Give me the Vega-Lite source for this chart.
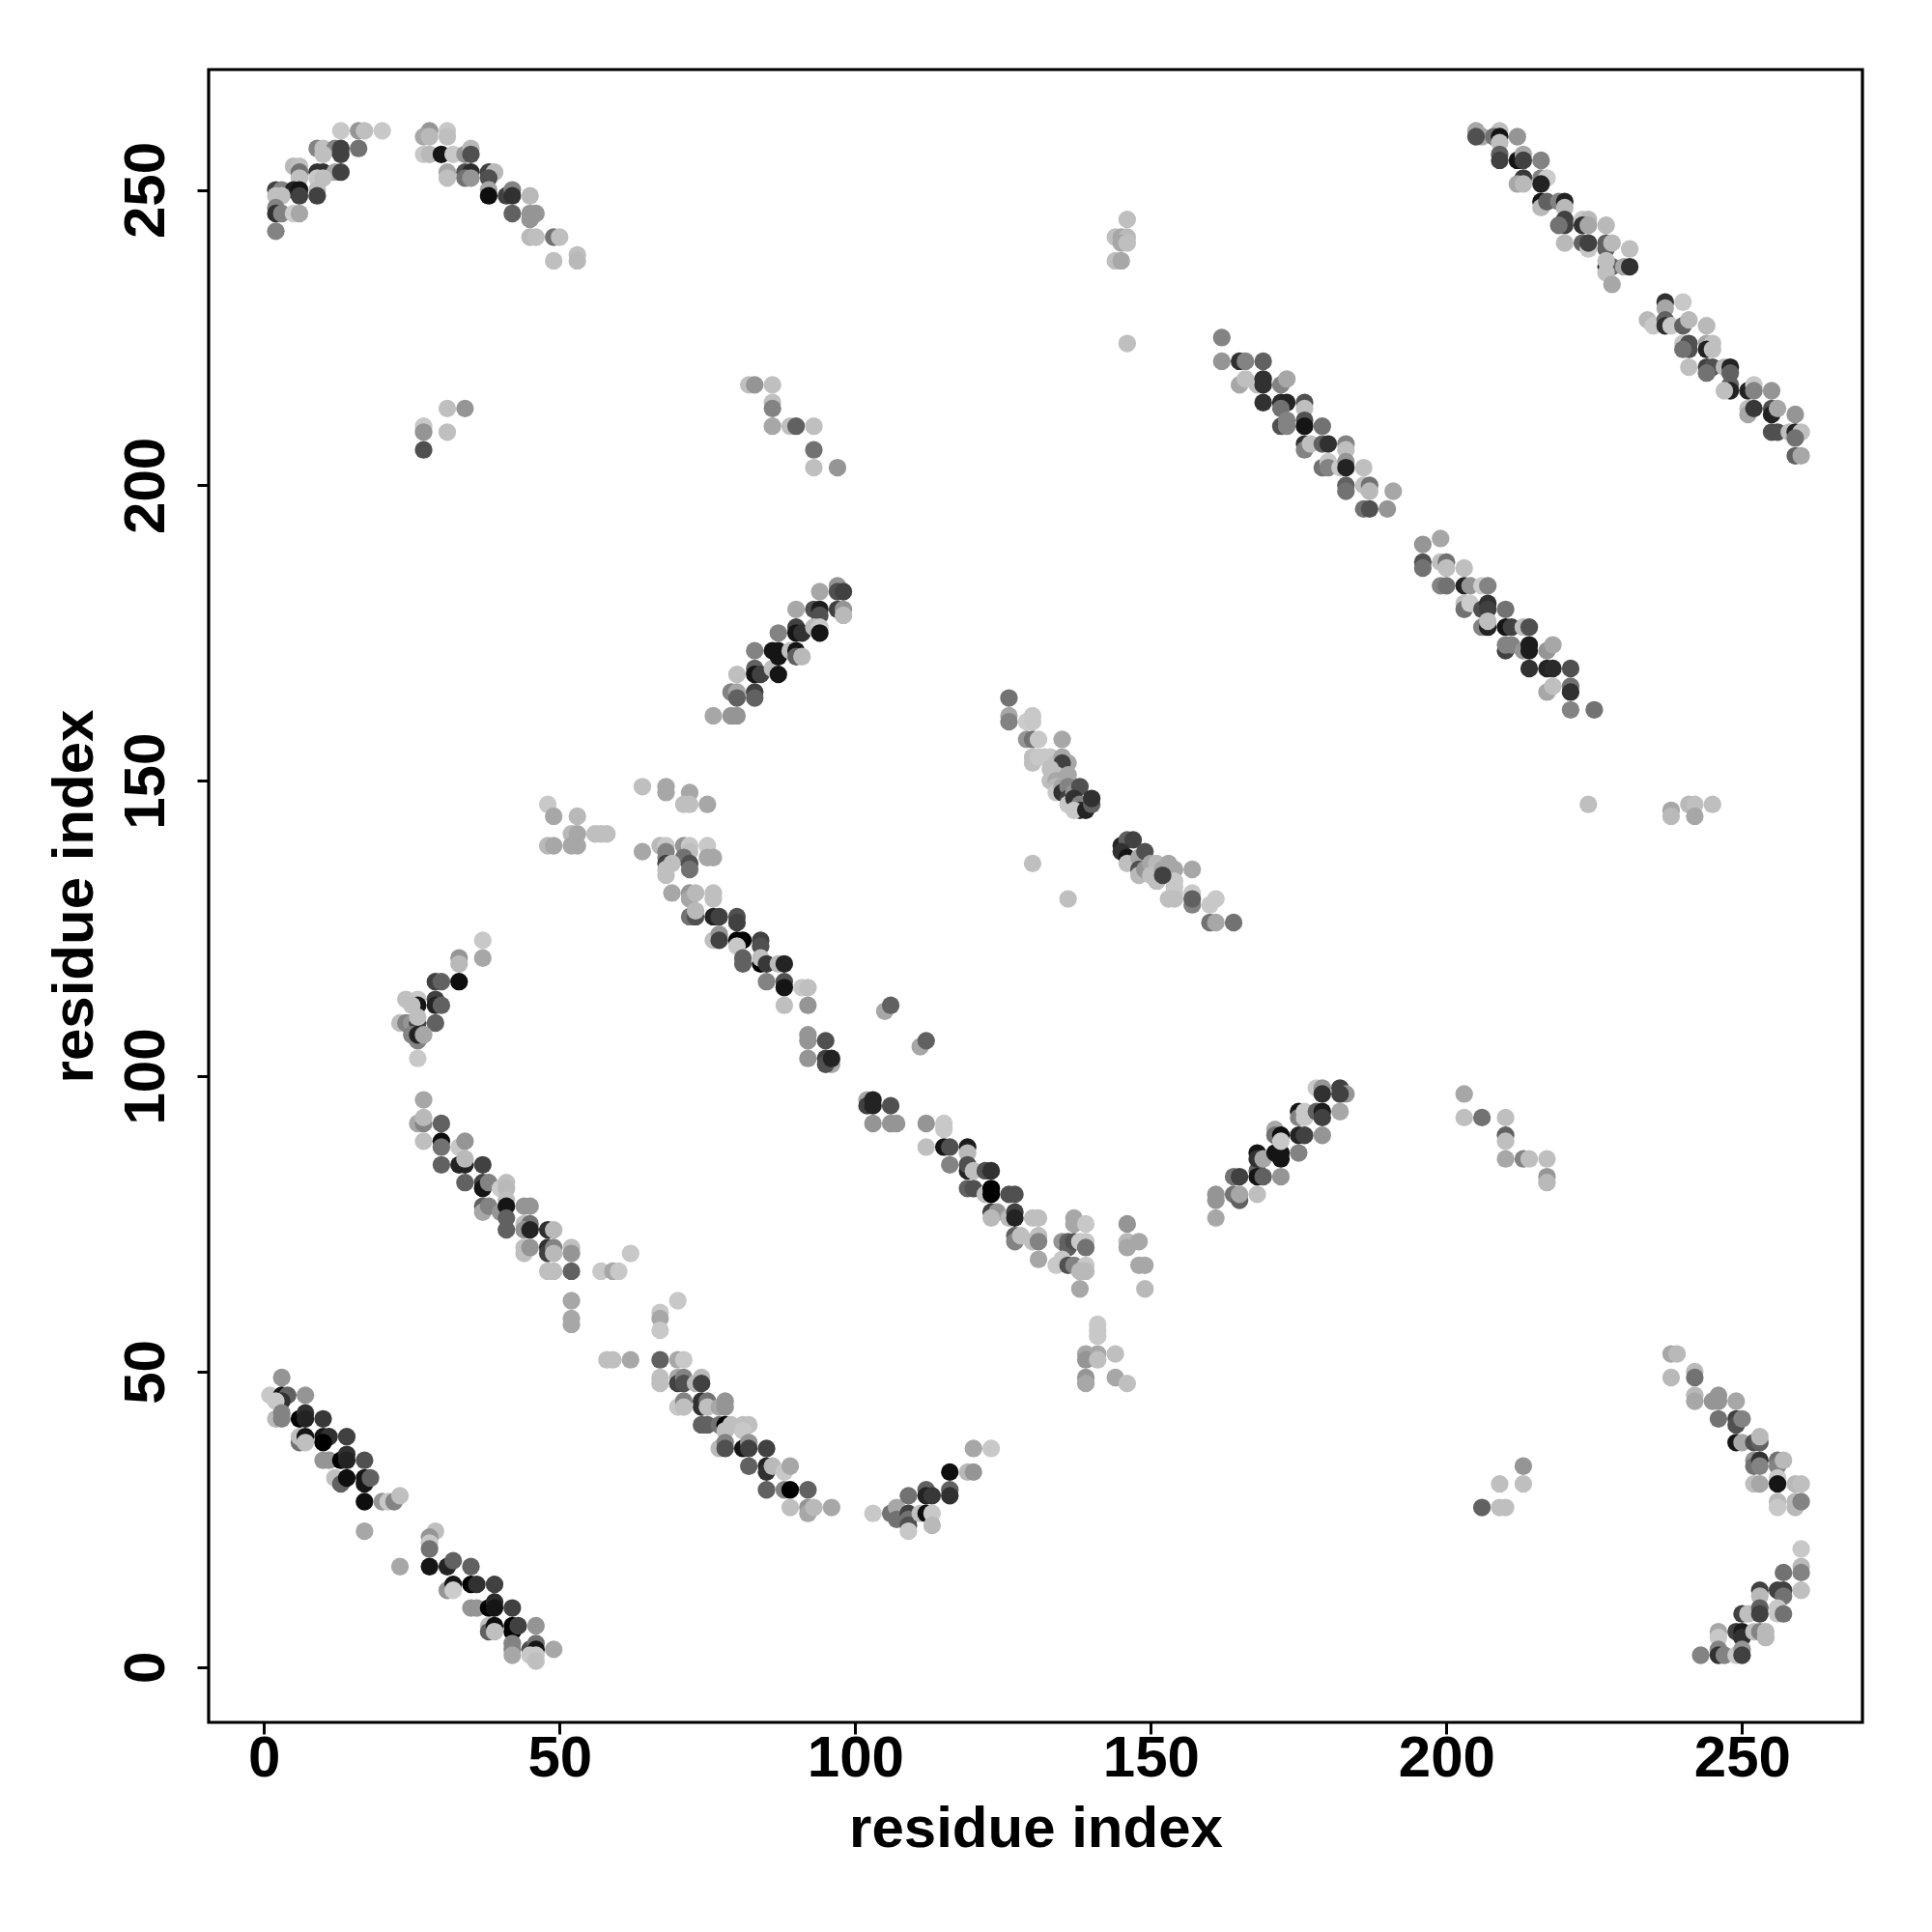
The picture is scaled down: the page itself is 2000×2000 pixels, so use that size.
{"$schema":"https://vega.github.io/schema/vega-lite/v6.json","width":1712,"height":1711,"autosize":"none","padding":{"left":216,"top":72,"right":72,"bottom":217},"background":"white","view":{"stroke":"black","strokeWidth":3.2,"fill":"white"},"config":{"axis":{"grid":false,"domain":false,"tickColor":"black","tickWidth":3,"tickSize":12,"labelFont":"Liberation Sans","labelFontWeight":"bold","labelFontSize":60,"labelColor":"black","titleFont":"Liberation Sans","titleFontWeight":"bold","titleFontSize":60,"titleColor":"black"}},"data":{"values":[
{"i":13,"j":260,"s":200},{"i":16,"j":260,"s":153},{"i":17,"j":260,"s":192},{"i":20,"j":260,"s":200},{"i":28,"j":260,"s":153},{"i":31,"j":260,"s":200},{"i":27,"j":259,"s":170},{"i":31,"j":259,"s":192},{"i":28,"j":259,"s":187},
{"i":9,"j":257,"s":136},{"i":10,"j":257,"s":192},{"i":12,"j":257,"s":136},{"i":13,"j":257,"s":68},{"i":16,"j":257,"s":119},{"i":10,"j":256,"s":192},{"i":13,"j":256,"s":68},{"i":27,"j":256,"s":200},{"i":28,"j":256,"s":187},{"i":30,"j":256,"s":17},{"i":32,"j":256,"s":200},{"i":34,"j":256,"s":153},{"i":35,"j":257,"s":187},{"i":35,"j":256,"s":85},
{"i":5,"j":254,"s":187},{"i":6,"j":254,"s":192},{"i":6,"j":253,"s":119},{"i":9,"j":253,"s":51},{"i":10,"j":253,"s":51},{"i":12,"j":253,"s":170},{"i":13,"j":253,"s":68},{"i":31,"j":253,"s":170},{"i":34,"j":253,"s":85},{"i":35,"j":253,"s":42},{"i":38,"j":253,"s":68},{"i":39,"j":253,"s":187},
{"i":6,"j":252,"s":192},{"i":9,"j":252,"s":200},{"i":10,"j":252,"s":192},{"i":31,"j":252,"s":192},{"i":34,"j":252,"s":119},{"i":35,"j":252,"s":153},{"i":38,"j":252,"s":85},
{"i":2,"j":250,"s":68},{"i":3,"j":250,"s":136},{"i":5,"j":250,"s":34},{"i":6,"j":250,"s":17},{"i":9,"j":250,"s":192},{"i":2,"j":249,"s":192},{"i":3,"j":249,"s":192},{"i":6,"j":249,"s":68},{"i":9,"j":249,"s":68},{"i":38,"j":250,"s":170},{"i":38,"j":249,"s":10},{"i":41,"j":249,"s":68},{"i":42,"j":250,"s":136},{"i":42,"j":249,"s":51},{"i":45,"j":249,"s":187},
{"i":2,"j":247,"s":136},{"i":2,"j":246,"s":51},{"i":3,"j":246,"s":136},{"i":5,"j":246,"s":204},{"i":6,"j":246,"s":170},{"i":42,"j":246,"s":102},{"i":45,"j":246,"s":153},{"i":46,"j":246,"s":153},{"i":45,"j":245,"s":153},{"i":2,"j":243,"s":136},{"i":45,"j":242,"s":187},{"i":46,"j":242,"s":192},{"i":49,"j":242,"s":119},{"i":50,"j":242,"s":192},{"i":49,"j":238,"s":192},{"i":53,"j":239,"s":192},{"i":53,"j":238,"s":187},
{"i":31,"j":213,"s":192},{"i":34,"j":213,"s":153},{"i":27,"j":210,"s":200},{"i":27,"j":209,"s":153},{"i":31,"j":209,"s":192},{"i":27,"j":206,"s":85},
{"i":205,"j":260,"s":170},{"i":206,"j":259,"s":170},{"i":205,"j":259,"s":85},{"i":209,"j":260,"s":192},{"i":208,"j":259,"s":119},{"i":209,"j":259,"s":17},{"i":209,"j":258,"s":192},{"i":212,"j":259,"s":153},{"i":209,"j":256,"s":102},{"i":209,"j":255,"s":68},{"i":212,"j":255,"s":17},{"i":213,"j":256,"s":170},{"i":213,"j":255,"s":68},{"i":216,"j":255,"s":136},{"i":213,"j":252,"s":58},{"i":212,"j":251,"s":170},{"i":213,"j":251,"s":187},{"i":216,"j":252,"s":136},{"i":217,"j":252,"s":204},{"i":216,"j":251,"s":34},{"i":216,"j":248,"s":17},{"i":216,"j":247,"s":187},{"i":217,"j":248,"s":102},{"i":219,"j":248,"s":136},{"i":220,"j":248,"s":34},{"i":220,"j":247,"s":187},{"i":220,"j":245,"s":68},{"i":220,"j":244,"s":68},{"i":219,"j":244,"s":119},{"i":223,"j":245,"s":200},{"i":224,"j":245,"s":187},{"i":223,"j":244,"s":51},{"i":224,"j":244,"s":170},{"i":227,"j":244,"s":187},{"i":220,"j":241,"s":187},{"i":223,"j":241,"s":102},{"i":224,"j":240,"s":200},{"i":224,"j":241,"s":68},{"i":227,"j":241,"s":102},{"i":227,"j":240,"s":102},{"i":228,"j":241,"s":187},{"i":231,"j":240,"s":192},{"i":227,"j":237,"s":34},{"i":228,"j":237,"s":102},{"i":227,"j":238,"s":192},{"i":230,"j":237,"s":170},{"i":231,"j":237,"s":51},{"i":227,"j":236,"s":192},{"i":228,"j":234,"s":170},
{"i":237,"j":231,"s":51},{"i":237,"j":230,"s":170},{"i":240,"j":231,"s":200},{"i":234,"j":228,"s":187},{"i":235,"j":227,"s":200},{"i":237,"j":228,"s":102},{"i":237,"j":227,"s":51},{"i":238,"j":227,"s":200},{"i":240,"j":227,"s":102},{"i":241,"j":228,"s":187},{"i":244,"j":227,"s":187},{"i":240,"j":224,"s":200},{"i":241,"j":224,"s":85},{"i":241,"j":223,"s":85},{"i":240,"j":223,"s":119},{"i":244,"j":224,"s":170},{"i":245,"j":224,"s":192},{"i":244,"j":223,"s":34},{"i":245,"j":223,"s":192},{"i":241,"j":220,"s":192},{"i":244,"j":220,"s":68},{"i":245,"j":220,"s":85},{"i":244,"j":219,"s":119},{"i":247,"j":220,"s":187},{"i":248,"j":220,"s":34},{"i":248,"j":219,"s":102},{"i":248,"j":217,"s":102},{"i":248,"j":216,"s":34},{"i":247,"j":216,"s":192},{"i":251,"j":216,"s":34},{"i":252,"j":217,"s":200},{"i":252,"j":216,"s":136},{"i":255,"j":216,"s":153},{"i":251,"j":213,"s":192},{"i":251,"j":212,"s":170},{"i":252,"j":213,"s":58},{"i":255,"j":213,"s":85},{"i":255,"j":212,"s":34},{"i":256,"j":213,"s":170},{"i":255,"j":209,"s":85},{"i":256,"j":209,"s":85},{"i":258,"j":209,"s":192},{"i":259,"j":212,"s":153},{"i":259,"j":209,"s":34},{"i":260,"j":209,"s":192},{"i":259,"j":208,"s":119},{"i":259,"j":205,"s":102},{"i":260,"j":205,"s":170},
{"i":162,"j":225,"s":136},{"i":162,"j":221,"s":153},{"i":165,"j":221,"s":51},{"i":166,"j":221,"s":136},{"i":169,"j":221,"s":102},{"i":165,"j":217,"s":170},{"i":166,"j":218,"s":192},{"i":168,"j":217,"s":192},{"i":169,"j":218,"s":51},{"i":169,"j":217,"s":51},{"i":172,"j":217,"s":136},{"i":173,"j":218,"s":170},{"i":169,"j":214,"s":51},{"i":172,"j":214,"s":42},{"i":173,"j":214,"s":34},{"i":172,"j":213,"s":119},{"i":176,"j":214,"s":85},{"i":176,"j":213,"s":192},{"i":172,"j":210,"s":85},{"i":173,"j":211,"s":136},{"i":173,"j":210,"s":136},{"i":176,"j":211,"s":85},{"i":176,"j":210,"s":17},{"i":179,"j":210,"s":119},{"i":176,"j":207,"s":51},{"i":176,"j":206,"s":136},{"i":177,"j":207,"s":192},{"i":179,"j":207,"s":102},{"i":180,"j":207,"s":51},{"i":183,"j":207,"s":136},{"i":183,"j":206,"s":192},{"i":179,"j":203,"s":119},{"i":180,"j":204,"s":200},{"i":180,"j":203,"s":136},{"i":182,"j":203,"s":200},{"i":183,"j":204,"s":153},{"i":183,"j":203,"s":34},{"i":186,"j":203,"s":192},{"i":183,"j":200,"s":102},{"i":183,"j":199,"s":119},{"i":186,"j":200,"s":192},{"i":187,"j":200,"s":119},{"i":187,"j":199,"s":187},{"i":191,"j":199,"s":170},{"i":186,"j":196,"s":119},{"i":187,"j":196,"s":85},{"i":190,"j":196,"s":153},
{"i":196,"j":190,"s":153},{"i":199,"j":191,"s":170},{"i":196,"j":187,"s":85},{"i":196,"j":186,"s":119},{"i":199,"j":187,"s":192},{"i":200,"j":187,"s":119},{"i":200,"j":186,"s":192},{"i":203,"j":186,"s":192},{"i":199,"j":183,"s":136},{"i":200,"j":183,"s":119},{"i":203,"j":183,"s":34},{"i":204,"j":183,"s":153},{"i":206,"j":183,"s":204},{"i":207,"j":183,"s":136},{"i":203,"j":180,"s":192},{"i":203,"j":179,"s":119},{"i":204,"j":180,"s":204},{"i":206,"j":179,"s":85},{"i":207,"j":180,"s":51},{"i":207,"j":179,"s":68},{"i":210,"j":179,"s":119},{"i":206,"j":176,"s":136},{"i":207,"j":176,"s":34},{"i":207,"j":177,"s":192},{"i":210,"j":176,"s":17},{"i":211,"j":176,"s":68},{"i":213,"j":176,"s":192},{"i":214,"j":176,"s":85},{"i":210,"j":172,"s":68},{"i":210,"j":173,"s":136},{"i":211,"j":173,"s":136},{"i":213,"j":172,"s":153},{"i":214,"j":173,"s":26},{"i":214,"j":172,"s":26},{"i":217,"j":172,"s":153},{"i":218,"j":173,"s":170},{"i":214,"j":169,"s":51},{"i":217,"j":169,"s":34},{"i":218,"j":169,"s":42},{"i":221,"j":169,"s":85},{"i":217,"j":165,"s":170},{"i":218,"j":166,"s":192},{"i":221,"j":166,"s":119},{"i":221,"j":165,"s":51},{"i":221,"j":162,"s":136},{"i":225,"j":162,"s":119},
{"i":82,"j":217,"s":192},{"i":83,"j":217,"s":153},{"i":86,"j":217,"s":192},{"i":86,"j":214,"s":192},{"i":86,"j":213,"s":136},{"i":86,"j":210,"s":170},{"i":89,"j":210,"s":192},{"i":90,"j":210,"s":102},{"i":93,"j":210,"s":192},{"i":93,"j":206,"s":119},{"i":93,"j":203,"s":192},{"i":97,"j":203,"s":153},
{"i":76,"j":161,"s":170},{"i":79,"j":161,"s":153},{"i":80,"j":161,"s":153},{"i":79,"j":165,"s":136},{"i":80,"j":165,"s":170},{"i":80,"j":164,"s":102},{"i":83,"j":165,"s":68},{"i":83,"j":164,"s":102},{"i":80,"j":168,"s":192},{"i":83,"j":169,"s":102},{"i":83,"j":168,"s":17},{"i":84,"j":168,"s":68},{"i":86,"j":169,"s":192},{"i":87,"j":168,"s":17},{"i":83,"j":172,"s":136},{"i":86,"j":172,"s":17},{"i":87,"j":172,"s":17},{"i":87,"j":171,"s":17},{"i":89,"j":172,"s":192},{"i":90,"j":172,"s":17},{"i":90,"j":171,"s":102},{"i":91,"j":171,"s":187},{"i":87,"j":175,"s":136},{"i":90,"j":176,"s":68},{"i":90,"j":175,"s":17},{"i":91,"j":175,"s":51},{"i":90,"j":179,"s":170},{"i":93,"j":179,"s":85},{"i":94,"j":179,"s":26},{"i":94,"j":178,"s":85},{"i":93,"j":176,"s":187},{"i":94,"j":176,"s":200},{"i":94,"j":175,"s":17},{"i":94,"j":182,"s":170},{"i":97,"j":179,"s":68},{"i":98,"j":179,"s":153},{"i":98,"j":178,"s":187},{"i":97,"j":183,"s":153},{"i":97,"j":182,"s":85},{"i":98,"j":182,"s":68},
{"i":126,"j":164,"s":119},{"i":126,"j":161,"s":170},{"i":126,"j":160,"s":136},{"i":129,"j":160,"s":204},{"i":130,"j":161,"s":200},{"i":130,"j":160,"s":200},{"i":129,"j":157,"s":153},{"i":130,"j":157,"s":119},{"i":131,"j":157,"s":200},{"i":135,"j":157,"s":170},{"i":130,"j":154,"s":192},{"i":130,"j":153,"s":192},{"i":131,"j":154,"s":200},{"i":132,"j":154,"s":200},{"i":133,"j":154,"s":200},{"i":134,"j":153,"s":192},{"i":135,"j":154,"s":170},{"i":134,"j":152,"s":192},{"i":136,"j":153,"s":170},{"i":135,"j":153,"s":68},{"i":133,"j":152,"s":192},{"i":134,"j":151,"s":192},{"i":133,"j":150,"s":192},{"i":134,"j":150,"s":170},{"i":134,"j":149,"s":187},{"i":134,"j":148,"s":200},{"i":135,"j":149,"s":170},{"i":135,"j":148,"s":51},{"i":136,"j":150,"s":170},{"i":136,"j":151,"s":170},{"i":136,"j":149,"s":136},{"i":136,"j":147,"s":68},{"i":136,"j":146,"s":200},{"i":137,"j":148,"s":153},{"i":138,"j":149,"s":85},{"i":137,"j":147,"s":51},{"i":138,"j":146,"s":136},{"i":138,"j":145,"s":51},{"i":137,"j":145,"s":200},{"i":139,"j":145,"s":34},{"i":140,"j":146,"s":102},{"i":140,"j":147,"s":51},
{"i":130,"j":136,"s":192},{"i":136,"j":130,"s":192},
{"i":145,"j":139,"s":34},{"i":146,"j":140,"s":102},{"i":147,"j":140,"s":68},{"i":145,"j":138,"s":51},{"i":146,"j":137,"s":17},{"i":146,"j":136,"s":192},{"i":148,"j":137,"s":170},{"i":149,"j":138,"s":85},{"i":148,"j":135,"s":85},{"i":148,"j":134,"s":187},{"i":149,"j":135,"s":153},{"i":150,"j":136,"s":170},{"i":151,"j":136,"s":187},{"i":151,"j":134,"s":187},{"i":150,"j":134,"s":192},{"i":151,"j":133,"s":192},{"i":152,"j":135,"s":170},{"i":153,"j":135,"s":85},{"i":153,"j":136,"s":170},{"i":154,"j":135,"s":170},{"i":154,"j":133,"s":200},{"i":154,"j":132,"s":200},{"i":154,"j":131,"s":200},{"i":153,"j":130,"s":192},{"i":154,"j":130,"s":192},{"i":152,"j":134,"s":68},{"i":157,"j":135,"s":170},{"i":157,"j":131,"s":200},{"i":157,"j":129,"s":136},{"i":157,"j":130,"s":102},{"i":160,"j":129,"s":200},{"i":161,"j":130,"s":200},{"i":160,"j":126,"s":119},{"i":161,"j":126,"s":170},{"i":164,"j":126,"s":119},
{"i":48,"j":146,"s":200},{"i":49,"j":144,"s":170},{"i":53,"j":144,"s":187},{"i":52,"j":141,"s":187},{"i":53,"j":141,"s":170},{"i":56,"j":141,"s":192},{"i":57,"j":141,"s":192},{"i":58,"j":141,"s":192},{"i":48,"j":139,"s":187},{"i":49,"j":139,"s":170},{"i":52,"j":139,"s":170},{"i":53,"j":139,"s":170},
{"i":64,"j":149,"s":192},{"i":68,"j":149,"s":170},{"i":68,"j":148,"s":170},{"i":72,"j":148,"s":170},{"i":71,"j":146,"s":192},{"i":72,"j":146,"s":192},{"i":75,"j":146,"s":170},
{"i":64,"j":138,"s":170},{"i":67,"j":139,"s":187},{"i":68,"j":139,"s":200},{"i":68,"j":138,"s":136},{"i":68,"j":137,"s":136},{"i":71,"j":139,"s":153},{"i":72,"j":139,"s":200},{"i":72,"j":138,"s":192},{"i":75,"j":139,"s":200},{"i":75,"j":137,"s":170},{"i":76,"j":137,"s":170},{"i":71,"j":137,"s":119},{"i":72,"j":136,"s":85},{"i":72,"j":135,"s":119},{"i":68,"j":136,"s":68},{"i":69,"j":136,"s":192},{"i":68,"j":135,"s":192},{"i":68,"j":134,"s":192},
{"i":69,"j":131,"s":170},{"i":72,"j":131,"s":153},{"i":72,"j":130,"s":170},{"i":73,"j":131,"s":187},{"i":76,"j":131,"s":192},{"i":76,"j":130,"s":192},
{"i":72,"j":127,"s":119},{"i":73,"j":127,"s":85},{"i":73,"j":128,"s":187},{"i":76,"j":127,"s":34},{"i":77,"j":127,"s":68},{"i":80,"j":127,"s":85},{"i":80,"j":126,"s":68},
{"i":76,"j":123,"s":192},{"i":77,"j":124,"s":153},{"i":77,"j":123,"s":68},{"i":80,"j":123,"s":0},{"i":81,"j":123,"s":0},{"i":80,"j":122,"s":200},
{"i":84,"j":123,"s":68},{"i":84,"j":122,"s":85},{"i":81,"j":120,"s":102},{"i":81,"j":119,"s":102},{"i":84,"j":119,"s":0},{"i":84,"j":120,"s":192},{"i":85,"j":119,"s":58},{"i":87,"j":119,"s":187},{"i":88,"j":119,"s":34},
{"i":85,"j":116,"s":136},{"i":88,"j":116,"s":85},{"i":88,"j":115,"s":17},{"i":91,"j":115,"s":200},{"i":92,"j":115,"s":192},{"i":88,"j":112,"s":192},{"i":92,"j":112,"s":153},
{"i":92,"j":107,"s":153},{"i":92,"j":106,"s":153},{"i":92,"j":103,"s":153},{"i":95,"j":106,"s":85},{"i":95,"j":103,"s":68},{"i":96,"j":102,"s":170},{"i":95,"j":102,"s":85},{"i":96,"j":103,"s":34},
{"i":105,"j":111,"s":170},{"i":106,"j":112,"s":102},{"i":102,"j":96,"s":170},{"i":102,"j":95,"s":68},{"i":103,"j":96,"s":34},{"i":103,"j":95,"s":34},{"i":106,"j":95,"s":85},{"i":103,"j":92,"s":153},{"i":106,"j":92,"s":153},{"i":107,"j":92,"s":153},
{"i":111,"j":105,"s":170},{"i":112,"j":106,"s":102},{"i":112,"j":92,"s":153},{"i":115,"j":92,"s":200},{"i":115,"j":91,"s":200},{"i":112,"j":88,"s":192},{"i":115,"j":88,"s":17},{"i":116,"j":88,"s":85},{"i":119,"j":88,"s":26},{"i":119,"j":87,"s":187},{"i":116,"j":85,"s":136},{"i":119,"j":84,"s":34},{"i":119,"j":85,"s":85},{"i":120,"j":84,"s":192},{"i":122,"j":84,"s":85},{"i":123,"j":84,"s":51},
{"i":119,"j":81,"s":102},{"i":120,"j":81,"s":85},{"i":122,"j":80,"s":192},{"i":123,"j":81,"s":0},{"i":123,"j":80,"s":0},{"i":126,"j":80,"s":85},{"i":127,"j":80,"s":85},
{"i":123,"j":77,"s":68},{"i":124,"j":77,"s":153},{"i":123,"j":76,"s":187},{"i":126,"j":76,"s":187},{"i":127,"j":77,"s":68},{"i":127,"j":76,"s":34},{"i":130,"j":76,"s":192},{"i":131,"j":76,"s":192},
{"i":127,"j":73,"s":102},{"i":127,"j":72,"s":136},{"i":128,"j":73,"s":192},{"i":130,"j":72,"s":192},{"i":131,"j":73,"s":192},{"i":131,"j":72,"s":136},{"i":131,"j":69,"s":170},
{"i":134,"j":68,"s":200},{"i":135,"j":72,"s":153},{"i":136,"j":72,"s":102},{"i":136,"j":71,"s":102},{"i":135,"j":69,"s":200},{"i":136,"j":68,"s":85},{"i":137,"j":76,"s":170},{"i":137,"j":75,"s":170},{"i":139,"j":75,"s":200},{"i":137,"j":72,"s":85},{"i":138,"j":72,"s":200},{"i":139,"j":72,"s":200},{"i":139,"j":71,"s":119},{"i":137,"j":68,"s":136},{"i":139,"j":68,"s":200},{"i":139,"j":67,"s":187},{"i":138,"j":67,"s":187},{"i":138,"j":64,"s":170},
{"i":146,"j":75,"s":153},{"i":146,"j":72,"s":187},{"i":146,"j":71,"s":170},{"i":148,"j":72,"s":170},{"i":148,"j":68,"s":170},{"i":149,"j":68,"s":170},{"i":149,"j":64,"s":187},
{"i":141,"j":58,"s":200},{"i":141,"j":57,"s":200},{"i":141,"j":56,"s":200},{"i":139,"j":53,"s":170},{"i":141,"j":53,"s":170},{"i":144,"j":53,"s":192},{"i":139,"j":52,"s":153},{"i":141,"j":52,"s":192},{"i":139,"j":49,"s":153},{"i":139,"j":48,"s":170},{"i":144,"j":49,"s":170},{"i":146,"j":48,"s":192},
{"i":161,"j":80,"s":153},{"i":161,"j":79,"s":153},{"i":161,"j":76,"s":170},{"i":164,"j":80,"s":119},{"i":165,"j":79,"s":102},{"i":165,"j":80,"s":170},{"i":168,"j":80,"s":192},{"i":164,"j":83,"s":119},{"i":165,"j":83,"s":68},{"i":168,"j":84,"s":102},{"i":168,"j":83,"s":17},{"i":169,"j":83,"s":102},{"i":172,"j":83,"s":153},{"i":168,"j":87,"s":17},{"i":168,"j":86,"s":51},{"i":169,"j":86,"s":170},{"i":171,"j":87,"s":17},{"i":172,"j":87,"s":17},{"i":172,"j":86,"s":17},{"i":175,"j":87,"s":136},{"i":171,"j":91,"s":170},{"i":171,"j":90,"s":119},{"i":172,"j":90,"s":10},{"i":172,"j":89,"s":200},{"i":175,"j":90,"s":34},{"i":176,"j":90,"s":68},{"i":179,"j":90,"s":153},{"i":175,"j":94,"s":17},{"i":175,"j":93,"s":136},{"i":176,"j":94,"s":200},{"i":176,"j":93,"s":200},{"i":178,"j":94,"s":102},{"i":179,"j":94,"s":26},{"i":179,"j":93,"s":68},{"i":182,"j":94,"s":170},{"i":178,"j":98,"s":200},{"i":179,"j":98,"s":153},{"i":179,"j":97,"s":51},{"i":182,"j":98,"s":68},{"i":183,"j":97,"s":153},{"i":182,"j":97,"s":68},
{"i":203,"j":97,"s":170},{"i":203,"j":93,"s":192},{"i":206,"j":93,"s":119},{"i":210,"j":93,"s":192},{"i":210,"j":90,"s":102},{"i":210,"j":89,"s":192},{"i":210,"j":86,"s":170},{"i":213,"j":86,"s":136},{"i":214,"j":86,"s":192},{"i":217,"j":86,"s":192},{"i":217,"j":83,"s":153},{"i":217,"j":82,"s":187},
{"i":37,"j":123,"s":200},{"i":37,"j":120,"s":170},{"i":33,"j":120,"s":153},{"i":33,"j":119,"s":187},{"i":29,"j":116,"s":68},{"i":30,"j":116,"s":102},{"i":33,"j":116,"s":10},{"i":24,"j":113,"s":192},{"i":26,"j":113,"s":200},{"i":26,"j":112,"s":17},{"i":29,"j":113,"s":68},{"i":29,"j":112,"s":34},{"i":30,"j":112,"s":102},{"i":25,"j":112,"s":192},{"i":23,"j":109,"s":192},{"i":24,"j":109,"s":136},{"i":25,"j":109,"s":153},{"i":26,"j":109,"s":68},{"i":29,"j":109,"s":102},{"i":26,"j":110,"s":192},{"i":25,"j":107,"s":136},{"i":26,"j":106,"s":136},{"i":26,"j":107,"s":34},{"i":27,"j":107,"s":170},{"i":26,"j":103,"s":200},
{"i":27,"j":96,"s":170},{"i":26,"j":92,"s":170},{"i":27,"j":92,"s":136},{"i":27,"j":93,"s":187},{"i":30,"j":92,"s":102},{"i":27,"j":89,"s":192},{"i":30,"j":89,"s":10},{"i":30,"j":88,"s":119},{"i":30,"j":85,"s":102},{"i":33,"j":88,"s":200},{"i":34,"j":89,"s":153},{"i":33,"j":85,"s":34},{"i":34,"j":85,"s":34},{"i":34,"j":86,"s":187},{"i":37,"j":85,"s":68},
{"i":34,"j":82,"s":102},{"i":37,"j":82,"s":68},{"i":37,"j":81,"s":17},{"i":38,"j":82,"s":136},{"i":40,"j":81,"s":204},{"i":41,"j":82,"s":192},{"i":41,"j":81,"s":187},{"i":37,"j":78,"s":102},{"i":37,"j":77,"s":170},{"i":38,"j":78,"s":136},{"i":40,"j":77,"s":153},{"i":41,"j":79,"s":192},{"i":41,"j":78,"s":17},{"i":41,"j":76,"s":102},{"i":41,"j":74,"s":102},{"i":44,"j":78,"s":153},{"i":45,"j":78,"s":153},{"i":44,"j":75,"s":192},{"i":45,"j":75,"s":119},{"i":44,"j":74,"s":153},{"i":45,"j":74,"s":34},{"i":44,"j":71,"s":192},{"i":44,"j":70,"s":192},{"i":45,"j":71,"s":153},{"i":48,"j":74,"s":51},{"i":49,"j":74,"s":187},{"i":48,"j":71,"s":51},{"i":48,"j":70,"s":68},{"i":49,"j":71,"s":136},{"i":49,"j":70,"s":187},
{"i":52,"j":71,"s":192},{"i":52,"j":70,"s":153},{"i":48,"j":67,"s":192},{"i":49,"j":67,"s":192},{"i":52,"j":67,"s":102},{"i":57,"j":67,"s":200},{"i":59,"j":67,"s":170},{"i":60,"j":67,"s":200},{"i":62,"j":70,"s":200},{"i":52,"j":62,"s":170},{"i":52,"j":59,"s":170},{"i":52,"j":58,"s":170},
{"i":70,"j":62,"s":200},{"i":67,"j":60,"s":200},{"i":67,"j":59,"s":170},{"i":67,"j":57,"s":200},{"i":58,"j":52,"s":192},{"i":59,"j":52,"s":192},{"i":62,"j":52,"s":170},{"i":67,"j":52,"s":102},{"i":70,"j":52,"s":170},{"i":71,"j":52,"s":200},
{"i":67,"j":49,"s":192},{"i":67,"j":48,"s":192},{"i":70,"j":49,"s":170},{"i":70,"j":48,"s":68},{"i":71,"j":49,"s":136},{"i":71,"j":48,"s":85},{"i":74,"j":49,"s":187},{"i":73,"j":48,"s":187},{"i":74,"j":48,"s":68},
{"i":70,"j":44,"s":200},{"i":71,"j":45,"s":136},{"i":71,"j":44,"s":192},{"i":74,"j":45,"s":51},{"i":74,"j":44,"s":51},{"i":75,"j":45,"s":119},{"i":75,"j":44,"s":192},{"i":77,"j":44,"s":170},{"i":78,"j":45,"s":153},{"i":78,"j":44,"s":153},
{"i":74,"j":41,"s":102},{"i":75,"j":41,"s":102},{"i":77,"j":41,"s":119},{"i":78,"j":41,"s":0},{"i":79,"j":41,"s":192},{"i":78,"j":40,"s":192},{"i":81,"j":41,"s":192},{"i":82,"j":41,"s":192},{"i":81,"j":40,"s":200},
{"i":77,"j":37,"s":187},{"i":78,"j":38,"s":136},{"i":78,"j":37,"s":85},{"i":81,"j":37,"s":17},{"i":82,"j":38,"s":153},{"i":82,"j":37,"s":68},{"i":85,"j":37,"s":68},{"i":82,"j":34,"s":102},{"i":85,"j":34,"s":34},{"i":85,"j":33,"s":51},{"i":86,"j":34,"s":187},{"i":88,"j":33,"s":200},{"i":89,"j":34,"s":170},
{"i":85,"j":30,"s":102},{"i":88,"j":30,"s":136},{"i":89,"j":30,"s":0},{"i":92,"j":30,"s":102},{"i":89,"j":27,"s":192},{"i":92,"j":27,"s":153},{"i":92,"j":26,"s":170},{"i":93,"j":27,"s":187},{"i":96,"j":27,"s":170},{"i":103,"j":26,"s":200},
{"i":106,"j":26,"s":119},{"i":107,"j":27,"s":170},{"i":107,"j":25,"s":119},{"i":109,"j":29,"s":119},{"i":109,"j":26,"s":68},{"i":109,"j":25,"s":119},{"i":109,"j":24,"s":85},{"i":109,"j":23,"s":200},{"i":112,"j":30,"s":102},{"i":112,"j":29,"s":34},{"i":113,"j":29,"s":58},{"i":111,"j":26,"s":192},{"i":112,"j":26,"s":10},{"i":113,"j":26,"s":200},{"i":113,"j":24,"s":187},{"i":116,"j":30,"s":102},{"i":116,"j":29,"s":51},{"i":116,"j":33,"s":10},{"i":119,"j":33,"s":187},{"i":120,"j":33,"s":153},{"i":120,"j":37,"s":170},{"i":123,"j":37,"s":200},
{"i":3,"j":49,"s":153},{"i":1,"j":46,"s":200},{"i":3,"j":46,"s":17},{"i":4,"j":46,"s":102},{"i":7,"j":46,"s":153},{"i":3,"j":45,"s":51},{"i":2,"j":45,"s":200},{"i":2,"j":42,"s":187},{"i":3,"j":43,"s":136},{"i":3,"j":42,"s":136},{"i":6,"j":42,"s":0},{"i":7,"j":43,"s":51},{"i":7,"j":42,"s":34},{"i":10,"j":42,"s":58},
{"i":6,"j":38,"s":119},{"i":6,"j":39,"s":192},{"i":7,"j":39,"s":17},{"i":7,"j":38,"s":192},{"i":10,"j":39,"s":17},{"i":11,"j":39,"s":51},{"i":10,"j":38,"s":0},{"i":14,"j":39,"s":68},{"i":10,"j":35,"s":153},{"i":11,"j":35,"s":153},{"i":13,"j":35,"s":0},{"i":14,"j":36,"s":51},{"i":14,"j":35,"s":34},{"i":17,"j":35,"s":85},
{"i":12,"j":32,"s":192},{"i":13,"j":31,"s":102},{"i":14,"j":32,"s":10},{"i":17,"j":32,"s":17},{"i":17,"j":31,"s":17},{"i":18,"j":32,"s":102},{"i":17,"j":28,"s":10},{"i":20,"j":28,"s":153},{"i":21,"j":28,"s":200},{"i":22,"j":28,"s":136},{"i":23,"j":29,"s":192},{"i":17,"j":23,"s":170},{"i":23,"j":17,"s":170},
{"i":29,"j":23,"s":192},{"i":28,"j":22,"s":153},{"i":28,"j":21,"s":200},{"i":28,"j":20,"s":119},{"i":28,"j":17,"s":17},{"i":31,"j":17,"s":34},{"i":32,"j":18,"s":102},{"i":35,"j":17,"s":102},
{"i":31,"j":13,"s":153},{"i":32,"j":14,"s":17},{"i":32,"j":13,"s":204},{"i":35,"j":14,"s":0},{"i":36,"j":14,"s":51},{"i":39,"j":14,"s":68},{"i":35,"j":10,"s":153},{"i":36,"j":10,"s":153},{"i":38,"j":10,"s":0},{"i":39,"j":11,"s":42},{"i":39,"j":10,"s":17},{"i":42,"j":10,"s":68},
{"i":38,"j":7,"s":192},{"i":38,"j":6,"s":102},{"i":39,"j":7,"s":10},{"i":39,"j":6,"s":192},{"i":42,"j":7,"s":0},{"i":42,"j":6,"s":0},{"i":43,"j":7,"s":68},{"i":46,"j":7,"s":153},{"i":42,"j":4,"s":136},{"i":42,"j":3,"s":136},{"i":42,"j":2,"s":170},{"i":45,"j":3,"s":85},{"i":46,"j":4,"s":119},{"i":46,"j":3,"s":17},{"i":45,"j":2,"s":200},{"i":46,"j":2,"s":200},{"i":46,"j":1,"s":192},{"i":49,"j":3,"s":170},
{"i":238,"j":53,"s":170},{"i":239,"j":53,"s":187},{"i":238,"j":49,"s":187},{"i":242,"j":50,"s":187},{"i":242,"j":49,"s":119},{"i":242,"j":46,"s":187},{"i":242,"j":45,"s":170},{"i":245,"j":45,"s":153},{"i":246,"j":46,"s":153},{"i":246,"j":45,"s":153},{"i":249,"j":45,"s":170},{"i":246,"j":42,"s":119},{"i":249,"j":42,"s":68},{"i":249,"j":41,"s":85},{"i":250,"j":42,"s":136},{"i":249,"j":38,"s":17},{"i":250,"j":38,"s":170},{"i":252,"j":38,"s":85},{"i":253,"j":38,"s":102},{"i":253,"j":39,"s":187},{"i":252,"j":35,"s":153},{"i":252,"j":34,"s":119},{"i":253,"j":35,"s":51},{"i":253,"j":34,"s":136},{"i":256,"j":35,"s":119},{"i":256,"j":34,"s":136},{"i":257,"j":35,"s":187},
{"i":252,"j":31,"s":192},{"i":253,"j":31,"s":170},{"i":256,"j":32,"s":200},{"i":256,"j":31,"s":17},{"i":259,"j":31,"s":187},{"i":260,"j":31,"s":192},{"i":256,"j":28,"s":187},{"i":256,"j":27,"s":200},{"i":259,"j":28,"s":187},{"i":259,"j":27,"s":187},{"i":260,"j":28,"s":136},
{"i":260,"j":20,"s":200},{"i":260,"j":17,"s":187},{"i":260,"j":16,"s":136},{"i":257,"j":16,"s":119},{"i":260,"j":13,"s":192},{"i":253,"j":13,"s":68},{"i":253,"j":12,"s":187},{"i":256,"j":13,"s":68},{"i":257,"j":13,"s":68},{"i":257,"j":12,"s":119},{"i":250,"j":9,"s":68},{"i":251,"j":9,"s":192},{"i":253,"j":10,"s":102},{"i":253,"j":9,"s":68},{"i":256,"j":10,"s":200},{"i":256,"j":9,"s":200},{"i":257,"j":9,"s":119},
{"i":246,"j":6,"s":170},{"i":246,"j":5,"s":200},{"i":249,"j":6,"s":68},{"i":250,"j":6,"s":26},{"i":250,"j":5,"s":51},{"i":252,"j":6,"s":192},{"i":253,"j":6,"s":136},{"i":254,"j":6,"s":187},{"i":254,"j":5,"s":187},{"i":243,"j":2,"s":136},{"i":246,"j":3,"s":136},{"i":246,"j":2,"s":51},{"i":247,"j":2,"s":136},{"i":249,"j":2,"s":200},{"i":250,"j":3,"s":153},{"i":250,"j":2,"s":68},
{"i":146,"j":245,"s":192},{"i":144,"j":242,"s":192},{"i":145,"j":242,"s":170},{"i":146,"j":242,"s":187},{"i":145,"j":241,"s":170},{"i":146,"j":241,"s":192},{"i":144,"j":238,"s":192},{"i":145,"j":238,"s":170},{"i":146,"j":224,"s":192},
{"i":224,"j":146,"s":192},{"i":238,"j":145,"s":170},{"i":238,"j":144,"s":187},{"i":241,"j":146,"s":187},{"i":242,"j":146,"s":192},{"i":242,"j":144,"s":170},{"i":245,"j":146,"s":192},
{"i":206,"j":27,"s":102},{"i":209,"j":31,"s":192},{"i":209,"j":27,"s":192},{"i":210,"j":27,"s":192},{"i":213,"j":34,"s":153},{"i":213,"j":31,"s":192}
]},"mark":{"type":"point","shape":"circle","filled":true,"size":335,"opacity":1,"strokeWidth":0},"encoding":{"x":{"field":"i","type":"quantitative","title":"residue index","scale":{"domain":[-9.36,270.36],"nice":false,"zero":false},"axis":{"values":[0,50,100,150,200,250],"labelPadding":-4,"titlePadding":14}},"y":{"field":"j","type":"quantitative","title":"residue index","scale":{"domain":[-9.36,270.36],"nice":false,"zero":false},"axis":{"values":[0,50,100,150,200,250],"labelAngle":-90,"labelAlign":"center","labelBaseline":"bottom","labelPadding":22,"titlePadding":13}},"color":{"field":"s","type":"quantitative","legend":null,"scale":{"domain":[0,204],"range":["#000000","#cccccc"]}},"order":[{"field":"i"},{"field":"j"}]}}
